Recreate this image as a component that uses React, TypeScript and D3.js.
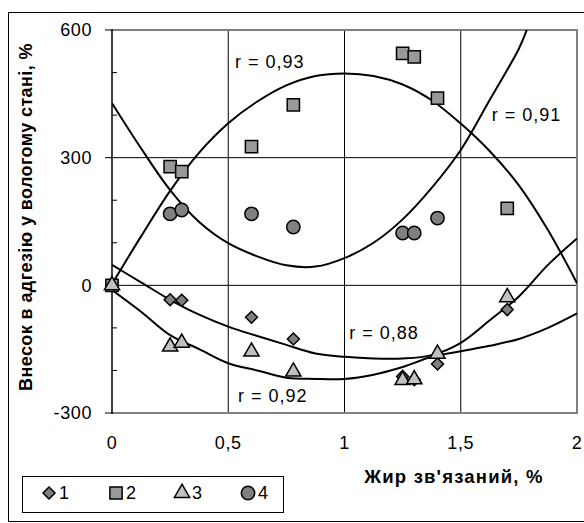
import React from 'react';
import * as d3 from 'd3';

// measured points: bound fat (%) vs contribution to wet adhesion (%)
const fatX = [0, 0.25, 0.3, 0.6, 0.78, 1.25, 1.3, 1.4, 1.7];
const series1 = [0, -34, -35, -75, -126, -214, -222, -185, -57];
const series2 = [0, 279, 267, 326, 424, 545, 537, 440, 181];
const series3 = [0, -144, -135, -156, -203, -223, -221, -161, -28];
const series4 = [null, 168, 177, 168, 137, 123, 123, 158, null];

// trend lines
const trendX = [0, 0.125, 0.25, 0.375, 0.5, 0.625, 0.75, 0.875, 1, 1.125, 1.25, 1.375, 1.5, 1.625, 1.75, 1.875, 2];
const trend1 = [48, 7, -34, -69, -97, -119, -140, -160, -168, -172, -172, -164, -135, -82, -26, 48, 110];
const trend2 = [3, 115, 222, 312, 381, 432, 470, 492, 498, 492, 472, 435, 380, 315, 235, 130, 5];
const trend3 = [-11, -62, -117, -150, -183, -200, -217, -220, -220, -210, -192, -168, -155, -142, -126, -100, -66];
const trend4X = [0, 0.125, 0.25, 0.375, 0.5, 0.625, 0.75, 0.875, 1, 1.125, 1.25, 1.375, 1.5, 1.625, 1.75, 1.784];
const trend4 = [428, 322, 224, 149, 99, 68, 47, 44, 64, 100, 155, 229, 318, 436, 556, 600];

const rLabels = [
  { text: 'r = 0,93', x: 0.529, y: 510 },
  { text: 'r = 0,91', x: 1.633, y: 385 },
  { text: 'r = 0,88', x: 1.02, y: -127 },
  { text: 'r = 0,92', x: 0.542, y: -275 },
];

const xTicks = [0, 0.5, 1, 1.5, 2];
const xTickLabels = ['0', '0,5', '1', '1,5', '2'];
const yTicks = [-300, 0, 300, 600];
const yMinor = [-200, -100, 100, 200, 400, 500];
const legendNames = ['1', '2', '3', '4'];

const font = "Arial, 'Liberation Sans', sans-serif";
const fills = ['#808080', '#999999', '#c0c0c0', '#808080'];

const x = d3.scaleLinear().domain([0, 2]).range([112, 577]);
const y = d3.scaleLinear().domain([-300, 600]).range([413, 30]);

const symbols = [
  d3.symbol(d3.symbolSquare, 72)(),
  d3.symbol(d3.symbolSquare, 150)(),
  d3.symbol(d3.symbolTriangle, 100)(),
  d3.symbol(d3.symbolCircle, 140)(),
];
const rot = [45, 0, 0, 0];

function Marker({ i, cx, cy }: { i: number; cx: number; cy: number }) {
  return (
    <path
      d={symbols[i] as string}
      transform={`translate(${cx},${cy}) rotate(${rot[i]})`}
      fill={fills[i]}
      stroke="#000"
      strokeWidth={1.5}
    />
  );
}

export default function App() {
  const line = d3
    .line<[number, number]>()
    .x(d => x(d[0]))
    .y(d => y(d[1]))
    .curve(d3.curveCatmullRom);

  const trends = [
    trendX.map((v, i) => [v, trend1[i]] as [number, number]),
    trendX.map((v, i) => [v, trend2[i]] as [number, number]),
    trendX.map((v, i) => [v, trend3[i]] as [number, number]),
    trend4X.map((v, i) => [v, trend4[i]] as [number, number]),
  ];
  const series = [series1, series2, series3, series4];
  const [x0, x1] = x.range();
  const [y0, y1] = y.range();

  return (
    <svg width={584} height={523} style={{ position: 'absolute', left: 0, top: 0 }} fontFamily={font}>
      <rect x={0} y={0} width={584} height={523} fill="#fff" />
      <rect x={8.5} y={12.5} width={620} height={509} fill="none" stroke="#000" />
      <defs>
        <clipPath id="plot">
          <rect x={x0} y={y1} width={x1 - x0} height={y0 - y1} />
        </clipPath>
      </defs>

      {/* grid */}
      {[0, 300].map(v => (
        <line key={'h' + v} x1={x0} x2={x1} y1={y(v)} y2={y(v)} stroke="#000" strokeWidth={1} />
      ))}
      {[0.5, 1, 1.5].map(v => (
        <line key={'v' + v} x1={x(v)} x2={x(v)} y1={y1} y2={y0} stroke="#000" strokeWidth={1} />
      ))}
      <path d={`M${x0},${y1}H${x1}V${y0}H${x0}`} fill="none" stroke="#808080" strokeWidth={2} />
      <line x1={x0} x2={x0} y1={y1 - 1} y2={y0 + 1} stroke="#000" strokeWidth={1.5} />

      {/* y axis ticks */}
      {yTicks.map(v => (
        <g key={'yt' + v}>
          <line x1={x0 - 7} x2={x0} y1={y(v)} y2={y(v)} stroke="#000" />
          <text x={92} y={y(v)} dy="0.35em" textAnchor="end" fontSize={18} letterSpacing={0.6}>
            {v}
          </text>
        </g>
      ))}
      {yMinor.map(v => (
        <line key={'ym' + v} x1={x0} x2={x0 + 5} y1={y(v)} y2={y(v)} stroke="#000" />
      ))}
      {xTicks.map((v, i) => (
        <text key={'xt' + v} x={x(v)} y={443} dy="0.35em" textAnchor="middle" fontSize={18} letterSpacing={0.6}>
          {xTickLabels[i]}
        </text>
      ))}

      {/* trend lines */}
      <g clipPath="url(#plot)">
        {trends.map((t, i) => (
          <path key={'t' + i} d={line(t) as string} fill="none" stroke="#000" strokeWidth={2} />
        ))}
      </g>

      {/* points */}
      {series.map((s, i) => (
        <g key={'s' + i}>
          {s.map((v, j) =>
            v === null ? null : <Marker key={j} i={i} cx={x(fatX[j])} cy={y(v)} />
          )}
        </g>
      ))}

      {rLabels.map(l => (
        <text key={l.text} x={x(l.x)} y={y(l.y)} fontSize={18} letterSpacing={1}>
          {l.text}
        </text>
      ))}

      {/* axis titles */}
      <text x={454} y={483} textAnchor="middle" fontSize={18.5} fontWeight="bold" letterSpacing={1.2}>
        Жир зв'язаний, %
      </text>
      <text
        transform="translate(32,217) rotate(-90)"
        textAnchor="middle"
        fontSize={18}
        fontWeight="bold"
        letterSpacing={0.4}
      >
        Внесок в адгезію у вологому стані, %
      </text>

      {/* legend */}
      <rect x={22.5} y={476.5} width={261} height={36} fill="#fff" stroke="#000" />
      {legendNames.map((n, i) => {
        const cx = [49, 116, 182, 248][i];
        return (
          <g key={'lg' + n}>
            <Marker i={i} cx={cx} cy={493} />
            <text x={cx + 10} y={493} dy="0.35em" fontSize={18}>
              {n}
            </text>
          </g>
        );
      })}
    </svg>
  );
}
